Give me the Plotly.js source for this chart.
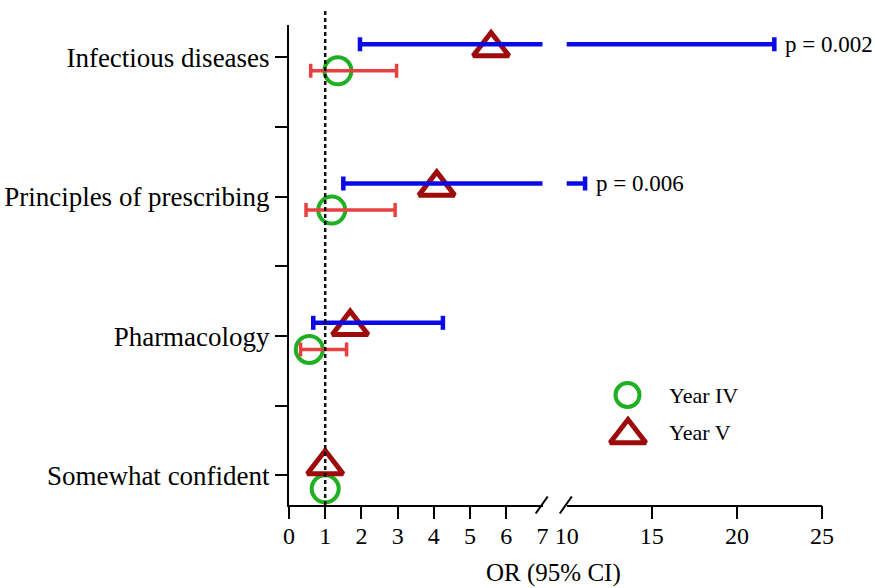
<!DOCTYPE html>
<html>
<head>
<meta charset="utf-8">
<script src="https://cdn.plot.ly/plotly-3.0.1.min.js"></script>
<style>html,body{margin:0;padding:0;background:#fff;}#chart{width:875px;height:588px;}</style>
</head>
<body>
<div id="chart"></div>
<script>
// ---------- data ----------
const categories = ["Somewhat confident", "Pharmacology", "Principles of prescribing", "Infectious diseases"];
const yearIV_or = [1.00, 0.56, 1.18, 1.35];
const yearIV_lo = [null, 0.32, 0.47, 0.60];
const yearIV_hi = [null, 1.59, 2.93, 2.97];
const yearV_or  = [1.00, 1.69, 4.08, 5.58];
const yearV_lo  = [null, 0.67, 1.50, 1.96];
const yearV_hi  = [null, 4.25, 11.08, 22.2];
const pValues   = [null, null, "p = 0.006", "p = 0.002"];
const xTicksLow  = [0, 1, 2, 3, 4, 5, 6, 7];
const xTicksHigh = [10, 15, 20, 25];
const seriesNames = ["Year IV", "Year V"];

// ---------- layout constants ----------
const W = 875, H = 588;
const M = {l: 289, r: 53, t: 25, b: 83};
const PW = W - M.l - M.r, PH = H - M.t - M.b;
const px2fx = x => (x - M.l) / PW;
const px2fy = y => (H - M.b - y) / PH;
const FONT = "Liberation Serif, 'Times New Roman', Times, serif";
const GREEN = "#1fb022", DARKRED = "#9e0b0b", BLUE = "#0a0ae6", RED = "#e84040";
const OFF = 0.0955;        // vertical offset of each series from category centre
const TRI_SHIFT = 0.028;   // centre triangle glyph on its CI line
const d1 = [0, px2fx(542.5)], d2 = [px2fx(566.7), 1];

const catY = categories.map((c, i) => i);
const traces = [];

function addMarkers(vals, yoff, symbol, size, color, lw, name) {
  ["x", "x2"].forEach(ax => traces.push({
    type: "scatter", mode: "markers", xaxis: ax, yaxis: "y", name: name, showlegend: false,
    x: vals, y: catY.map(v => v + yoff),
    marker: {symbol: symbol, size: size, color: color, line: {color: color, width: lw}}
  }));
}
function addCIs(lo, hi, yoff, color, lw) {
  lo.forEach((l, i) => {
    if (l === null) return;
    const axes = hi[i] > xTicksHigh[0] ? ["x", "x2"] : ["x"];
    axes.forEach(ax => traces.push({
      type: "scatter", mode: "lines+markers", xaxis: ax, yaxis: "y", showlegend: false,
      x: [l, hi[i]], y: [catY[i] + yoff, catY[i] + yoff],
      line: {color: color, width: lw},
      marker: {symbol: "line-ns", size: 10, color: color, line: {color: color, width: lw}}
    }));
  });
}
addMarkers(yearIV_or, -OFF, "circle-open", 27, GREEN, 4, seriesNames[0]);
addMarkers(yearV_or, OFF - TRI_SHIFT, "triangle-up-open", 31, DARKRED, 5, seriesNames[1]);
addCIs(yearIV_lo, yearIV_hi, -OFF, RED, 3.5);
addCIs(yearV_lo, yearV_hi, OFF, BLUE, 4.5);

// legend symbols on a hidden full-plot overlay axis
traces.push({type: "scatter", mode: "markers", xaxis: "x3", yaxis: "y3", showlegend: false, cliponaxis: false,
  x: [px2fx(627.5)], y: [px2fy(395)],
  marker: {symbol: "circle-open", size: 24, color: GREEN, line: {color: GREEN, width: 4}}});
traces.push({type: "scatter", mode: "markers", xaxis: "x3", yaxis: "y3", showlegend: false, cliponaxis: false,
  x: [px2fx(628)], y: [px2fy(435)],
  marker: {symbol: "triangle-up-open", size: 31, color: DARKRED, line: {color: DARKRED, width: 5}}});
// empty traces so overlay tick axes exist
traces.push({type: "scatter", x: [], y: [], xaxis: "x4", yaxis: "y", showlegend: false});
traces.push({type: "scatter", x: [], y: [], xaxis: "x5", yaxis: "y", showlegend: false});

const annotations = [];
pValues.forEach((p, i) => {
  if (!p) return;
  annotations.push({text: p, x: yearV_hi[i], y: catY[i] + OFF, xref: yearV_hi[i] > 10 ? "x2" : "x", yref: "y",
    xanchor: "left", yanchor: "middle", xshift: 9, showarrow: false, font: {family: FONT, size: 23, color: "#000"}});
});
annotations.push({text: seriesNames[0], x: px2fx(667), y: px2fy(395), xref: "paper", yref: "paper",
  xanchor: "left", yanchor: "middle", showarrow: false, font: {family: FONT, size: 22, color: "#000"}});
annotations.push({text: seriesNames[1], x: px2fx(667), y: px2fy(432), xref: "paper", yref: "paper",
  xanchor: "left", yanchor: "middle", showarrow: false, font: {family: FONT, size: 22, color: "#000"}});
annotations.push({text: "OR (95% CI)", x: px2fx(553), y: px2fy(573), xref: "paper", yref: "paper",
  xanchor: "center", yanchor: "middle", showarrow: false, font: {family: FONT, size: 25, color: "#000"}});

const slash = (cx) => ({type: "line", xref: "paper", yref: "paper",
  x0: px2fx(cx - 6), y0: px2fy(513.5), x1: px2fx(cx + 6), y1: px2fy(496.5), line: {color: "#000", width: 2}});

const tickFont = {family: FONT, size: 24, color: "#000"};
const baseX = {showgrid: false, zeroline: false, showline: true, linecolor: "#000", linewidth: 2,
  ticks: "outside", ticklen: 13, tickwidth: 2, tickfont: tickFont, tickmode: "array", fixedrange: true};

const layout = {
  width: W, height: H, margin: M, paper_bgcolor: "#fff", plot_bgcolor: "rgba(0,0,0,0)",
  showlegend: false, hovermode: false, font: {family: FONT, color: "#000"},
  xaxis: Object.assign({}, baseX, {domain: d1, range: [0, 7], anchor: "y", tickvals: xTicksLow, ticklen: 8, tickcolor: "rgba(0,0,0,0)"}),
  xaxis2: Object.assign({}, baseX, {domain: d2, range: [10, 25], anchor: "y", tickvals: xTicksHigh, ticklen: 8, tickcolor: "rgba(0,0,0,0)"}),
  xaxis4: Object.assign({}, baseX, {overlaying: "x", range: [0, 7], anchor: "y", showline: false,
    tickvals: xTicksLow.slice(0, -1), showticklabels: false, tickcolor: "#000"}),
  xaxis5: Object.assign({}, baseX, {overlaying: "x2", range: [10, 25], anchor: "y", showline: false,
    tickvals: xTicksHigh.slice(1), showticklabels: false, tickcolor: "#000"}),
  yaxis: {domain: [0, 1], range: [-0.212, 3.233], anchor: "x", showgrid: false, zeroline: false,
    showline: true, linecolor: "#000", linewidth: 2, ticks: "outside", ticklen: 12, tickwidth: 2,
    tickcolor: "#000", tickmode: "array", tickvals: catY, ticktext: categories,
    tickfont: {family: FONT, size: 27, color: "#000"}, fixedrange: true,
    minor: {tickmode: "linear", tick0: 0.5, dtick: 1, ticks: "outside", ticklen: 12, tickwidth: 2, tickcolor: "#000"}},
  xaxis3: {domain: [0, 1], range: [0, 1], visible: false, anchor: "y3", fixedrange: true},
  yaxis3: {domain: [0, 1], range: [0, 1], visible: false, anchor: "x3", fixedrange: true},
  shapes: [
    {type: "line", xref: "x", yref: "paper", x0: 1, x1: 1, y0: 0, y1: px2fy(10),
     line: {color: "#111", width: 2.5, dash: "4px,3px"}},
    slash(541.7), slash(565.8)
  ],
  annotations: annotations
};

Plotly.newPlot("chart", traces, layout, {displayModeBar: false, staticPlot: true});
</script>
</body>
</html>
